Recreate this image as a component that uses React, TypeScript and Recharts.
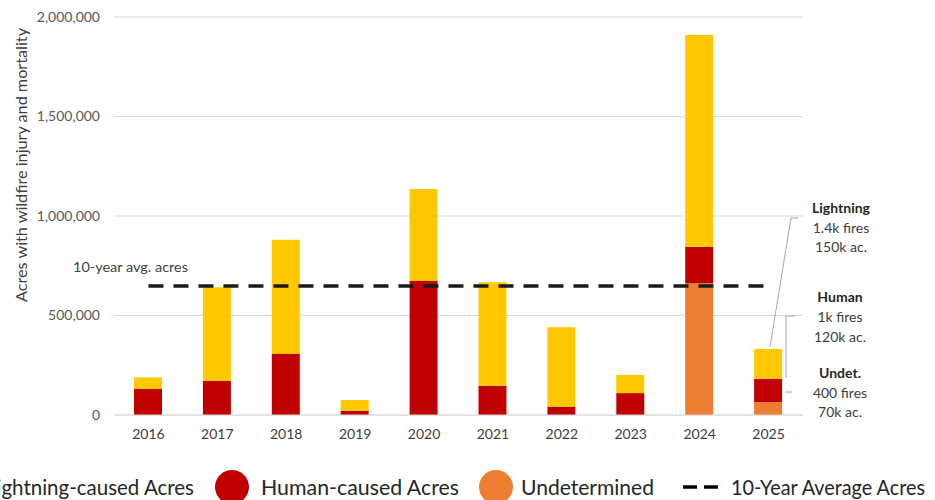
import React from 'react';
import { ComposedChart, Bar, Line, XAxis, YAxis, CartesianGrid } from 'recharts';

const years = ['2016', '2017', '2018', '2019', '2020', '2021', '2022', '2023', '2024', '2025'];
const undetermined = [0, 0, 0, 0, 0, 0, 0, 0, 662000, 65000];
const human = [131000, 171000, 307000, 20000, 673000, 147000, 42000, 110000, 184000, 117000];
const lightning = [58000, 471000, 574000, 55000, 463000, 520000, 399000, 91000, 1064000, 150000];
const tenYearAvg = 648000;
const yTicks = [0, 500000, 1000000, 1500000, 2000000];

const data = years.map((year, i) => ({
  year,
  undetermined: undetermined[i],
  human: human[i],
  lightning: lightning[i],
  avg: tenYearAvg,
}));

const YELLOW = '#FFC800';
const RED = '#C00000';
const ORANGE = '#ED7D31';
const FONT = 'Lato, "Open Sans", sans-serif';

const formatNumber = (v: number) => v.toLocaleString('en-US');

const Overlay = () => (
  <svg
    width={935}
    height={500}
    style={{ position: 'absolute', left: 0, top: 0, pointerEvents: 'none' }}
    fontFamily={FONT}
  >
    {/* y axis title */}
    <text
      x={21}
      y={165}
      transform="rotate(-90 21 165)"
      textAnchor="middle"
      dominantBaseline="central"
      fontSize={15.5}
      fill="#404040"
      textLength={274}
      lengthAdjust="spacingAndGlyphs"
    >
      Acres with wildfire injury and mortality
    </text>

    <text x={73} y={272} fontSize={14} fill="#404040" textLength={115} lengthAdjust="spacingAndGlyphs">
      10-year avg. acres
    </text>

    {/* 2025 breakdown notes */}
    <g fontSize={14} fill="#404040" textAnchor="middle">
      <text x={841} y={213} fontWeight="bold" fill="#262626">Lightning</text>
      <text x={841} y={233}>1.4k fires</text>
      <text x={841} y={252}>150k ac.</text>
      <text x={840} y={302} fontWeight="bold" fill="#262626">Human</text>
      <text x={840} y={322}>1k fires</text>
      <text x={840} y={342}>120k ac.</text>
      <text x={840} y={378} fontWeight="bold" fill="#262626">Undet.</text>
      <text x={840} y={398}>400 fires</text>
      <text x={840} y={417}>70k ac.</text>
    </g>
    <g stroke="#a6a6a6" strokeWidth={1} fill="none">
      <polyline points="770,347 791,218 798,218" />
      <polyline points="786,378 786,316 795,316" />
      <line x1={785} y1={392} x2={792} y2={392} />
    </g>

    {/* legend */}
    <g fontSize={21} fill="#262626">
      <circle cx={-32} cy={487} r={17} fill={YELLOW} />
      <text x={-14} y={495} textLength={208} lengthAdjust="spacingAndGlyphs">Lightning-caused Acres</text>
      <circle cx={232} cy={487} r={17} fill={RED} />
      <text x={261} y={495} textLength={198} lengthAdjust="spacingAndGlyphs">Human-caused Acres</text>
      <circle cx={496} cy={487} r={17} fill={ORANGE} />
      <text x={521} y={495} textLength={133} lengthAdjust="spacingAndGlyphs">Undetermined</text>
      <line x1={683} y1={487} x2={718} y2={487} stroke="#000" strokeWidth={3.5} strokeDasharray="14 7" />
      <text x={731} y={495} textLength={194} lengthAdjust="spacingAndGlyphs">10-Year Average Acres</text>
    </g>
  </svg>
);

export default function App() {
  return (
    <div style={{ position: 'absolute', left: 0, top: 0, width: 935, height: 500, overflow: 'hidden', background: '#fff' }}>
      <ComposedChart
        width={935}
        height={500}
        data={data}
        margin={{ top: 17, right: 132, bottom: 55, left: 0 }}
        barCategoryGap={0}
      >
        <CartesianGrid vertical={false} stroke="#d9d9d9" />
        <XAxis
          dataKey="year"
          height={30}
          tickLine={false}
          tickSize={0}
          tickMargin={14}
          axisLine={{ stroke: '#d9d9d9' }}
          tick={{ fill: '#404040', fontSize: 14, fontFamily: FONT }}
        />
        <YAxis
          width={114}
          domain={[0, 2000000]}
          ticks={yTicks}
          tickFormatter={formatNumber}
          axisLine={false}
          tickLine={false}
          tickSize={0}
          tickMargin={14}
          tick={{ fill: '#595959', fontSize: 14, fontFamily: FONT }}
        />
        <Bar dataKey="undetermined" stackId="a" fill={ORANGE} barSize={28} isAnimationActive={false} />
        <Bar dataKey="human" stackId="a" fill={RED} barSize={28} isAnimationActive={false} />
        <Bar dataKey="lightning" stackId="a" fill={YELLOW} barSize={28} isAnimationActive={false} />
        <Line
          dataKey="avg"
          stroke="#1a1a1a"
          strokeWidth={3.5}
          strokeDasharray="15 10"
          dot={false}
          activeDot={false}
          isAnimationActive={false}
        />
      </ComposedChart>
      <Overlay />
    </div>
  );
}
